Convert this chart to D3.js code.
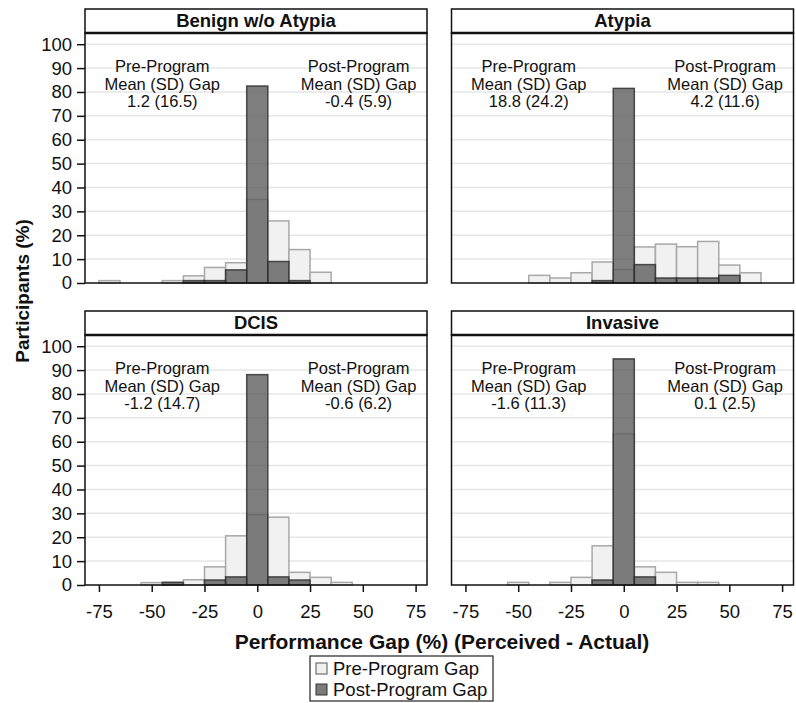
<!DOCTYPE html>
<html>
<head>
<meta charset="utf-8">
<script src="https://cdn.jsdelivr.net/npm/d3@7"></script>
<style>
  body { margin: 0; background: #fff; }
  text { font-family: "Liberation Sans", Arial, sans-serif; fill: #111; }
</style>
</head>
<body>
<script>
const width = 796;
const height = 703;

// bin centres (%), each bin is 10 wide
const binCenters = [-70, -60, -50, -40, -30, -20, -10, 0, 10, 20, 30, 40, 50, 60, 70];

const panelNames = ["Benign w/o Atypia", "Atypia", "DCIS", "Invasive"];

const benignPre    = [1, 0, 0, 1, 3, 6.5, 8.5, 35, 26, 14, 4.5, 0, 0, 0, 0];
const benignPost   = [0, 0, 0, 0, 1, 1, 5.5, 82.5, 9, 1, 0, 0, 0, 0, 0];
const atypiaPre    = [0, 0, 0, 3.2, 2.1, 4.3, 8.8, 5.6, 15.1, 16.3, 15.2, 17.4, 7.5, 4.3, 0];
const atypiaPost   = [0, 0, 0, 0, 0, 0, 1, 81.5, 7.7, 2.1, 2.1, 2.1, 3.2, 0, 0];
const dcisPre      = [0, 0, 1, 1.1, 2.2, 7.6, 20.6, 29.4, 28.4, 5.3, 3.2, 1.1, 0, 0, 0];
const dcisPost     = [0, 0, 0, 1.1, 0, 2.1, 3.4, 88.1, 3.4, 2.1, 0, 0, 0, 0, 0];
const invasivePre  = [0, 0, 1.1, 0, 1.1, 3.2, 16.4, 63.2, 7.6, 5.3, 1.1, 1.1, 0, 0, 0];
const invasivePost = [0, 0, 0, 0, 0, 0, 2.1, 94.7, 3.4, 0, 0, 0, 0, 0, 0];

const preStats  = ["1.2 (16.5)", "18.8 (24.2)", "-1.2 (14.7)", "-1.6 (11.3)"];
const postStats = ["-0.4 (5.9)", "4.2 (11.6)", "-0.6 (6.2)", "0.1 (2.5)"];

const yTicks = [0, 10, 20, 30, 40, 50, 60, 70, 80, 90, 100];
const xTicks = [-75, -50, -25, 0, 25, 50, 75];

const preSeries = [benignPre, atypiaPre, dcisPre, invasivePre];
const postSeries = [benignPost, atypiaPost, dcisPost, invasivePost];

// layout
const colX = [85, 451.5];
const rowY = [9, 311];
const panelW = 342;
const headerH = 24;
const plotH = 250;

const svg = d3.select("body")
	.append("svg")
	.attr("width", width)
	.attr("height", height);

const xScale = d3.scaleLinear()
	.domain([-81.6, 80.4])
	.range([0, panelW]);

const yScale = d3.scaleLinear()
	.domain([0, 104.7])
	.range([plotH, 0]);

panelNames.forEach((name, i) => {
	const col = i % 2;
	const row = Math.floor(i / 2);
	const g = svg.append("g")
		.attr("transform", `translate(${colX[col]},${rowY[row] + headerH})`);

	// grid
	g.append("g")
		.selectAll("line")
		.data(yTicks.filter(d => d > 0))
		.enter()
		.append("line")
		.attr("x1", 0)
		.attr("x2", panelW)
		.attr("y1", d => yScale(d))
		.attr("y2", d => yScale(d))
		.attr("stroke", "#e6e6e6")
		.attr("stroke-width", 1.5);

	const pre = binCenters.map((c, k) => ({c: c, v: preSeries[i][k]})).filter(d => d.v > 0);
	const post = binCenters.map((c, k) => ({c: c, v: postSeries[i][k]})).filter(d => d.v > 0);

	g.append("g")
		.selectAll("rect")
		.data(pre)
		.enter()
		.append("rect")
		.attr("x", d => xScale(d.c - 5))
		.attr("width", d => xScale(d.c + 5) - xScale(d.c - 5))
		.attr("y", d => yScale(d.v))
		.attr("height", d => yScale(0) - yScale(d.v))
		.attr("fill", "#f1f1f1")
		.attr("stroke", "#a8a8a8")
		.attr("stroke-width", 1.5);

	g.append("g")
		.selectAll("rect")
		.data(post)
		.enter()
		.append("rect")
		.attr("x", d => xScale(d.c - 5))
		.attr("width", d => xScale(d.c + 5) - xScale(d.c - 5))
		.attr("y", d => yScale(d.v))
		.attr("height", d => yScale(0) - yScale(d.v))
		.attr("fill", "#5e5e5e")
		.attr("fill-opacity", 0.8)
		.attr("stroke", "#2a2a2a")
		.attr("stroke-opacity", 0.8)
		.attr("stroke-width", 1.5);

	// annotations
	const notes = [
		{x: -45, lines: ["Pre-Program", "Mean (SD) Gap", preStats[i]]},
		{x: 48, lines: ["Post-Program", "Mean (SD) Gap", postStats[i]]}
	];
	notes.forEach(n => {
		g.append("g")
			.selectAll("text")
			.data(n.lines)
			.enter()
			.append("text")
			.attr("x", xScale(n.x))
			.attr("y", (d, k) => yScale(88.2) + k * 17.5)
			.attr("text-anchor", "middle")
			.attr("font-size", 16.5)
			.text(d => d);
	});

	// frame
	g.append("rect")
		.attr("x", 0)
		.attr("y", 0)
		.attr("width", panelW)
		.attr("height", plotH)
		.attr("fill", "none")
		.attr("stroke", "#111")
		.attr("stroke-width", 1.5);

	// header strip
	g.append("rect")
		.attr("x", 0)
		.attr("y", -headerH)
		.attr("width", panelW)
		.attr("height", headerH)
		.attr("fill", "#fff")
		.attr("stroke", "#111")
		.attr("stroke-width", 1.5);
	g.append("line")
		.attr("x1", 0)
		.attr("x2", panelW)
		.attr("y1", 0)
		.attr("y2", 0)
		.attr("stroke", "#111")
		.attr("stroke-width", 2.5);
	g.append("text")
		.attr("x", panelW / 2)
		.attr("y", -6)
		.attr("text-anchor", "middle")
		.attr("font-size", 18.5)
		.attr("font-weight", "bold")
		.text(name);

	// y axis on left column
	if (col === 0) {
		const ya = g.append("g")
			.call(d3.axisLeft(yScale).tickValues(yTicks).tickFormat(d => String(d)).tickSize(8).tickPadding(5));
		ya.select(".domain").remove();
		ya.selectAll("line").attr("stroke", "#111").attr("stroke-width", 1.5);
		ya.selectAll("text").attr("font-size", 18.5).attr("font-family", "Liberation Sans, Arial, sans-serif").attr("fill", "#111");
	}

	// x axis on bottom row
	if (row === 1) {
		const xa = g.append("g")
			.attr("transform", `translate(0,${plotH})`)
			.call(d3.axisBottom(xScale).tickValues(xTicks).tickFormat(d => String(d)).tickSize(7).tickPadding(13));
		xa.select(".domain").remove();
		xa.selectAll("line").attr("stroke", "#111").attr("stroke-width", 1.5);
		xa.selectAll("text").attr("font-size", 18.5).attr("font-family", "Liberation Sans, Arial, sans-serif").attr("fill", "#111");
	}
});

// axis titles
svg.append("text")
	.attr("transform", "translate(29,291) rotate(-90)")
	.attr("text-anchor", "middle")
	.attr("font-size", 19)
	.attr("font-weight", "bold")
	.text("Participants (%)");

svg.append("text")
	.attr("x", 442)
	.attr("y", 649)
	.attr("text-anchor", "middle")
	.attr("font-size", 21)
	.attr("font-weight", "bold")
	.text("Performance Gap (%) (Perceived - Actual)");

// legend
const legendItems = ["Pre-Program Gap", "Post-Program Gap"];
const legendFill = ["#f1f1f1", "#7b7b7b"];
const legendStroke = ["#555", "#333"];

const legend = svg.append("g").attr("transform", "translate(310,656)");
legend.append("rect")
	.attr("width", 183)
	.attr("height", 45)
	.attr("fill", "#fff")
	.attr("stroke", "#222")
	.attr("stroke-width", 1.2);
legend.selectAll("rect.key")
	.data(legendItems)
	.enter()
	.append("rect")
	.attr("class", "key")
	.attr("x", 6)
	.attr("y", (d, k) => 7 + k * 21)
	.attr("width", 11)
	.attr("height", 11)
	.attr("fill", (d, k) => legendFill[k])
	.attr("stroke", (d, k) => legendStroke[k])
	.attr("stroke-width", 1);
legend.selectAll("text")
	.data(legendItems)
	.enter()
	.append("text")
	.attr("x", 23)
	.attr("y", (d, k) => 18.5 + k * 21)
	.attr("font-size", 18.5)
	.text(d => d);
</script>
</body>
</html>
